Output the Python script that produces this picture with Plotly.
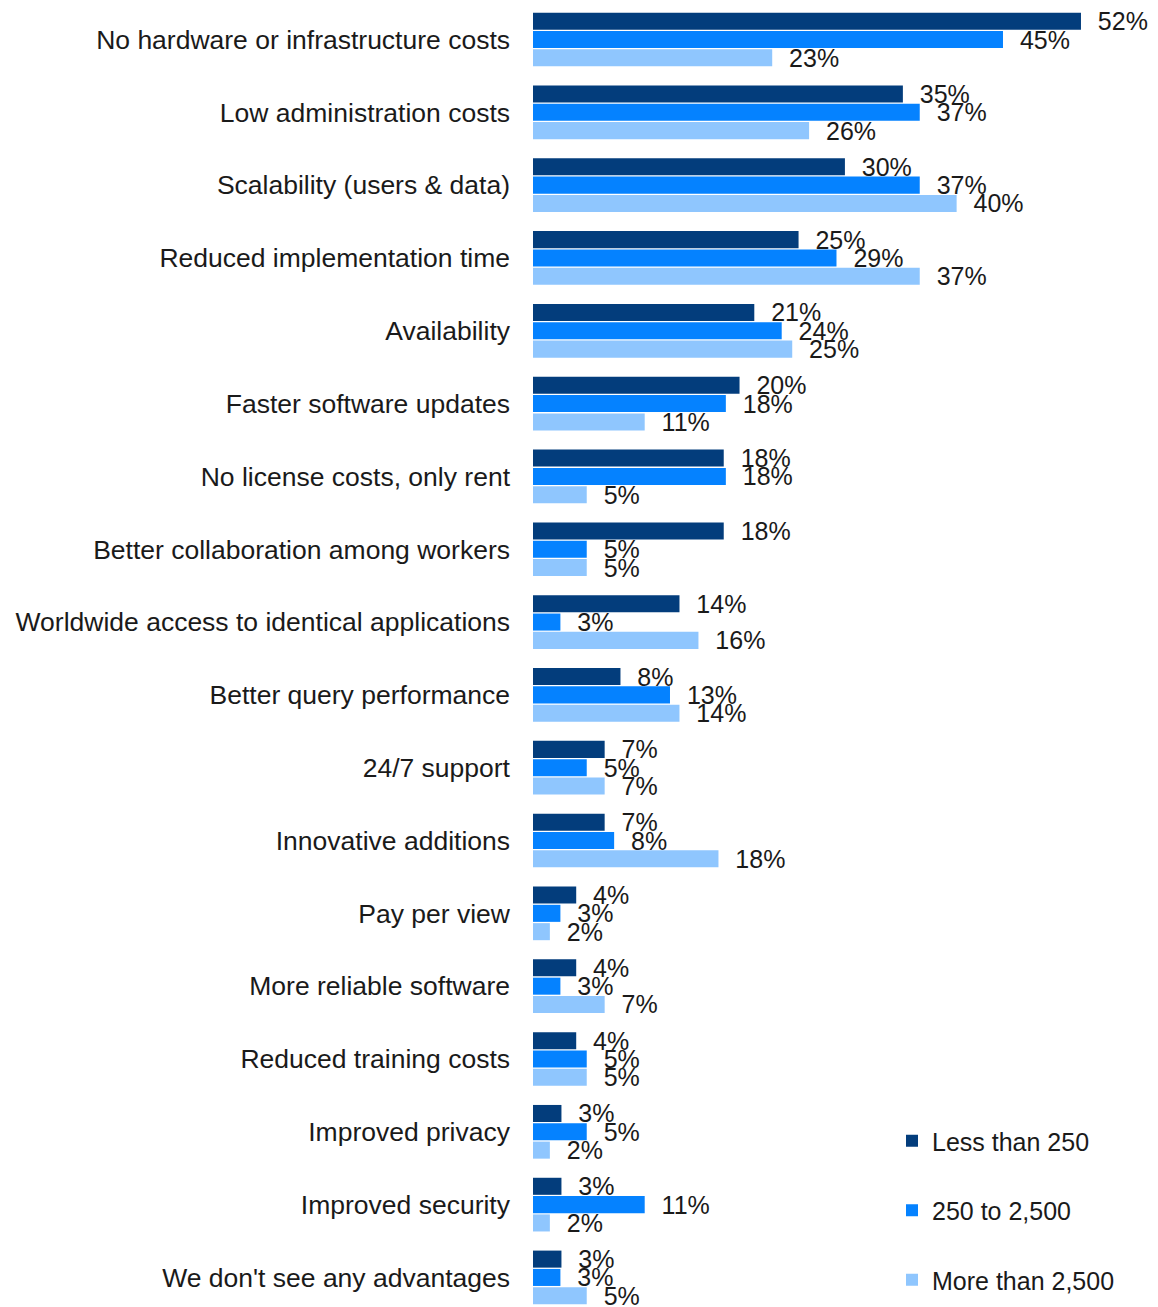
import plotly.graph_objects as go

categories = [
    "No hardware or infrastructure costs",
    "Low administration costs",
    "Scalability (users & data)",
    "Reduced implementation time",
    "Availability",
    "Faster software updates",
    "No license costs, only rent",
    "Better collaboration among workers",
    "Worldwide access to identical applications",
    "Better query performance",
    "24/7 support",
    "Innovative additions",
    "Pay per view",
    "More reliable software",
    "Reduced training costs",
    "Improved privacy",
    "Improved security",
    "We don't see any advantages",
]

less_than_250 = [52.0, 35.1, 29.6, 25.2, 21.0, 19.6, 18.1, 18.1, 13.9, 8.3, 6.8, 6.8, 4.1, 4.1, 4.1, 2.7, 2.7, 2.7]
from_250_to_2500 = [44.6, 36.7, 36.7, 28.8, 23.6, 18.3, 18.3, 5.1, 2.6, 13.0, 5.1, 7.7, 2.6, 2.6, 5.1, 5.1, 10.6, 2.6]
more_than_2500 = [22.7, 26.2, 40.2, 36.7, 24.6, 10.6, 5.1, 5.1, 15.7, 13.9, 6.8, 17.6, 1.6, 6.8, 5.1, 1.6, 1.6, 5.1]

series_names = ["Less than 250", "250 to 2,500", "More than 2,500"]
series_values = [less_than_250, from_250_to_2500, more_than_2500]
colors = ["#033d7c", "#0582ff", "#8fc6fe"]

FONT = "Liberation Sans, Arial, Helvetica, sans-serif"

fig = go.Figure()
for name, vals, col in zip(series_names, series_values, colors):
    fig.add_trace(go.Bar(
        y=categories,
        x=vals,
        name=name,
        orientation="h",
        marker=dict(color=col, line=dict(width=0)),
        texttemplate="\u00a0\u00a0%{x:.0f}%",
        textposition="outside",
        constraintext="none",
        cliponaxis=False,
        textfont=dict(family=FONT, size=25, color="#1a1a1a"),
        legendgroup=name,
        hoverinfo="skip",
    ))

px_per_cat = 72.82
v0 = -39.5 / px_per_cat
v1 = v0 + 1307 / px_per_cat

fig.update_layout(
    width=1158,
    height=1307,
    margin=dict(l=533, r=0, t=0, b=0, autoexpand=False),
    paper_bgcolor="white",
    plot_bgcolor="white",
    barmode="group",
    bargap=0.245,
    bargroupgap=0.07,
    font=dict(family=FONT, color="#1a1a1a"),
    xaxis=dict(range=[0, 625 / 10.538], showticklabels=False, showgrid=False,
               zeroline=False, showline=False, fixedrange=True, automargin=False),
    yaxis=dict(range=[v1, v0], showgrid=False, zeroline=False, showline=False,
               ticks="", ticklabelstandoff=22, automargin=False, fixedrange=True,
               tickfont=dict(family=FONT, size=26.5, color="#1a1a1a")),
    legend=dict(
        x=(892 - 533) / 625, xanchor="left",
        y=1 - 1118 / 1307, yanchor="top",
        traceorder="grouped",
        tracegroupgap=34,
        font=dict(family=FONT, size=25, color="#1a1a1a"),
        bgcolor="rgba(0,0,0,0)",
    ),
    showlegend=True,
)

fig.write_html(
    "out.html",
    config={"displayModeBar": False, "staticPlot": True},
    post_script="document.body.style.margin='0';document.body.style.padding='0';",
)
